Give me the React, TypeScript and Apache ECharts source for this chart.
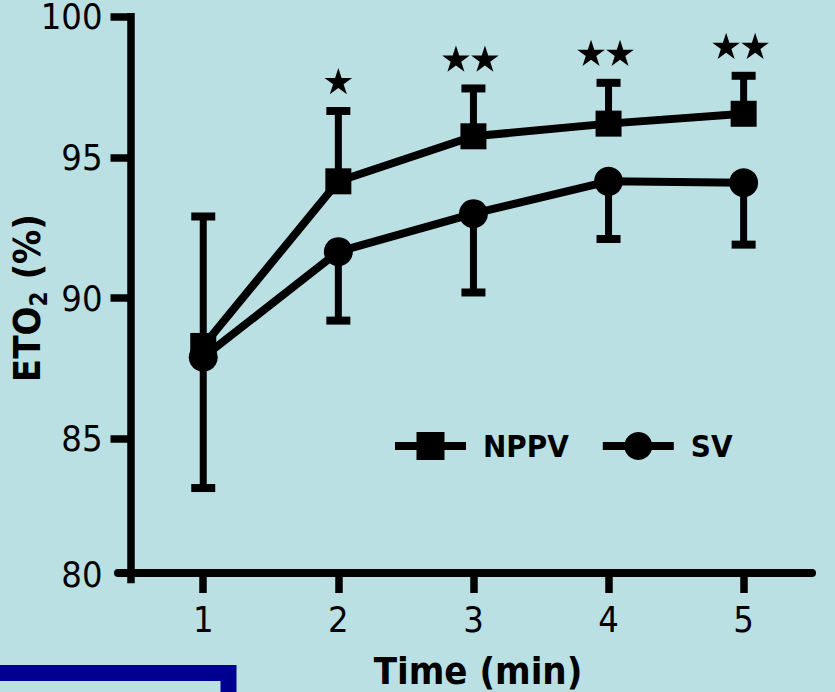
import React, { useEffect, useRef } from 'react';
import * as echarts from 'echarts';

// ---- data ----
const timePoints = [1, 2, 3, 4, 5];
const nppvMean = [88.3, 94.15, 95.75, 96.2, 96.55];
const nppvUpper = [92.9, 96.65, 97.45, 97.65, 97.9];
const svMean = [87.9, 91.65, 93.0, 94.15, 94.1];
const svLower = [83.25, 89.2, 90.2, 92.1, 91.9];
const significance = ['', '★', '★★', '★★', '★★'];
const yTickValues = [85, 90, 95, 100];
const yLabelValues = [80, 85, 90, 95, 100];
const xTickValues = [1, 2, 3, 4, 5];
const seriesNames = ['NPPV', 'SV'];

const FONT = "'DejaVu Sans Condensed', 'DejaVu Sans', sans-serif";
const BG = '#bae0e4';

function starPoints(cx: number, cy: number, R: number): number[][] {
  const r = R * 0.382;
  const pts: number[][] = [];
  for (let k = 0; k < 10; k++) {
    const ang = -Math.PI / 2 + (k * Math.PI) / 5;
    const rad = k % 2 === 0 ? R : r;
    pts.push([cx + rad * Math.cos(ang), cy + rad * Math.sin(ang)]);
  }
  return pts;
}

const errorBarRender = (params: any, api: any) => {
  const x = api.value(0);
  const m = api.value(1);
  const b = api.value(2);
  const p0 = api.coord([x, m]);
  const p1 = api.coord([x, b]);
  return {
    type: 'group',
    children: [
      {
        type: 'line',
        shape: { x1: p0[0], y1: p0[1], x2: p1[0], y2: p1[1] },
        style: { stroke: '#000', lineWidth: 7 },
      },
      {
        type: 'line',
        shape: { x1: p1[0] - 12, y1: p1[1], x2: p1[0] + 12, y2: p1[1] },
        style: { stroke: '#000', lineWidth: 8 },
      },
    ],
  };
};

const starRender = (params: any, api: any) => {
  const x = api.value(0);
  const top = api.value(1);
  const n = api.value(2);
  const p = api.coord([x, top]);
  const children: any[] = [];
  const shift = n > 1 ? -3 : 0;
  for (let i = 0; i < n; i++) {
    const cx = p[0] + shift + (i - (n - 1) / 2) * 29;
    const cy = p[1] - 30;
    children.push({
      type: 'polygon',
      shape: { points: starPoints(cx, cy + 1.5, 14.5) },
      style: { fill: '#000' },
    });
  }
  return { type: 'group', children };
};

export default function App() {
  const ref = useRef<HTMLDivElement>(null);
  useEffect(() => {
    document.body.style.margin = '0';
    if (!ref.current) return;
    const chart = echarts.init(ref.current, undefined, { renderer: 'svg' });
    const option: any = {
      animation: false,
      backgroundColor: BG,
      grid: { left: 118, right: 23, top: 16.7, bottom: 112.5, containLabel: false, outerBoundsMode: 'none' },
      legend: {
        data: seriesNames,
        left: 386,
        top: 425.5,
        itemWidth: 71,
        itemHeight: 35,
        itemGap: 30,
        lineStyle: { width: 8 },
        textStyle: { fontFamily: FONT, fontWeight: 'bold', fontSize: 31, color: '#000', padding: [0, 0, 0, 12] },
      },
      xAxis: {
        type: 'value',
        min: 0.369,
        max: 5.506,
        offset: -6.5,
        name: 'Time (min)',
        nameLocation: 'middle',
        nameGap: 79,
        nameMoveOverlap: false,
        nameTextStyle: { fontFamily: FONT, fontWeight: 'bold', fontSize: 38, color: '#000', padding: [0, 0, 0, 26] },
        axisLine: { show: true, lineStyle: { color: '#000', width: 8 } },
        axisTick: { show: true, customValues: xTickValues, length: 20, lineStyle: { color: '#000', width: 7.5 } },
        axisLabel: { customValues: xTickValues, margin: 28, fontFamily: FONT, fontSize: 36, color: '#000' },
        splitLine: { show: false },
      },
      yAxis: {
        type: 'value',
        min: 80,
        max: 100,
        interval: 5,
        offset: -12.5,
        name: '{m|ETO}{s|2}{m| (%)}',
        nameLocation: 'middle',
        nameRotate: 90,
        nameGap: 80,
        nameMoveOverlap: false,
        nameTextStyle: {
          fontFamily: FONT,
          fontWeight: 'bold',
          fontSize: 38,
          color: '#000',
          rich: {
            m: { fontFamily: FONT, fontWeight: 'bold', fontSize: 38, color: '#000', lineHeight: 46, verticalAlign: 'bottom', padding: [0, 0, 5, 0] },
            s: { fontFamily: FONT, fontWeight: 'bold', fontSize: 24, color: '#000', lineHeight: 46, verticalAlign: 'bottom' },
          },
        },
        axisLine: { show: true, lineStyle: { color: '#000', width: 7.5, cap: 'square' } },
        axisTick: { show: true, customValues: yTickValues, length: 20, lineStyle: { color: '#000', width: 7.5 } },
        axisLabel: {
          customValues: yLabelValues,
          margin: 28,
          fontFamily: FONT,
          fontSize: 36,
          lineHeight: 30,
          color: '#000',
          formatter: (v: number) => (v === 80 ? '{lo|80}' : String(v)),
          rich: { lo: { fontFamily: FONT, fontSize: 36, lineHeight: 30, color: '#000', padding: [0, 0, 11, 0] } },
        },
        splitLine: { show: false },
      },
      graphic: [
        {
          type: 'rect',
          shape: { x: -30, y: 673, width: 258.5, height: 100 },
          style: { fill: 'none', stroke: '#000090', lineWidth: 16 },
          z: 10,
        },
      ],
      series: [
        {
          type: 'custom',
          name: 'NPPV err',
          renderItem: errorBarRender,
          data: timePoints.map((t, i) => [t, nppvMean[i], nppvUpper[i]]),
          encode: { x: 0, y: 1 },
          clip: false,
          z: 1,
        },
        {
          type: 'custom',
          name: 'SV err',
          renderItem: errorBarRender,
          data: timePoints.map((t, i) => [t, svMean[i], svLower[i]]),
          encode: { x: 0, y: 1 },
          clip: false,
          z: 1,
        },
        {
          type: 'custom',
          name: 'stars',
          renderItem: starRender,
          data: timePoints
            .map((t, i) => [t, nppvUpper[i], significance[i].length])
            .filter((d) => d[2] > 0),
          encode: { x: 0, y: 1 },
          clip: false,
          z: 3,
        },
        {
          type: 'line',
          name: 'NPPV',
          data: timePoints.map((t, i) => [t, nppvMean[i]]),
          symbol: 'rect',
          symbolSize: 26,
          lineStyle: { color: '#000', width: 8 },
          itemStyle: { color: '#000' },
          z: 4,
        },
        {
          type: 'line',
          name: 'SV',
          data: timePoints.map((t, i) => [t, svMean[i]]),
          symbol: 'circle',
          symbolSize: 29,
          lineStyle: { color: '#000', width: 8 },
          itemStyle: { color: '#000' },
          z: 4,
        },
      ],
    };
    chart.setOption(option);
    return () => chart.dispose();
  }, []);
  return <div ref={ref} style={{ width: 835, height: 692, background: BG }} />;
}
